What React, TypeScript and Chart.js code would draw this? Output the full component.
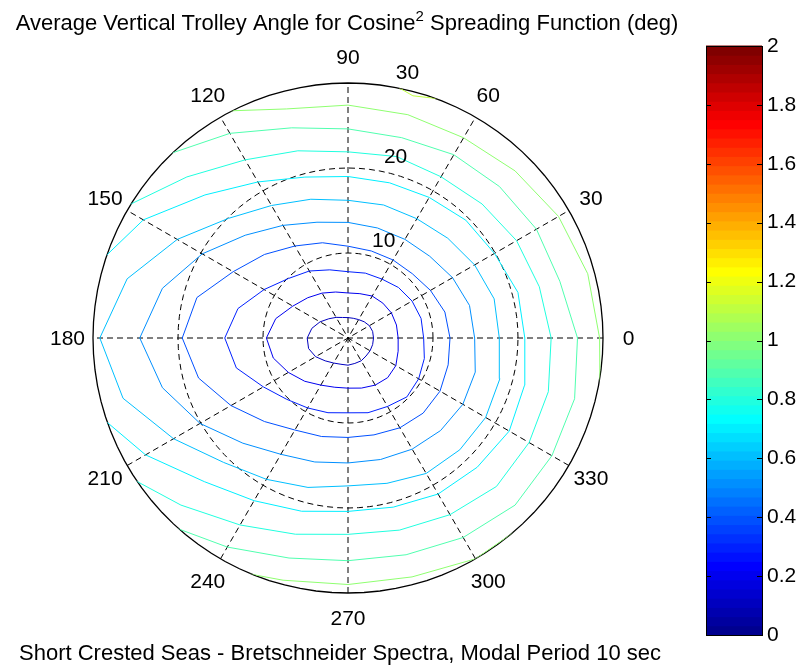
import React, { useEffect, useRef } from "react";
import { Chart, registerables } from "chart.js";

Chart.register(...registerables);

// ---------- text ----------
const TITLE_MAIN = "Average Vertical Trolley Angle for Cosine";
const TITLE_SUP = "2";
const TITLE_END = " Spreading Function (deg)";
const X_LABEL = "Short Crested Seas - Bretschneider Spectra, Modal Period 10 sec";

// ---------- data (polar: angle in degrees, radius in plot units) ----------
const ANGLES_DEG = [0, 15, 30, 45, 60, 75, 90, 105, 120, 135, 150, 165, 180, 195, 210, 225, 240, 255, 270, 285, 300, 315, 330, 345];

const CONTOUR_LEVELS = [0.1, 0.2, 0.3, 0.4, 0.5, 0.6, 0.7, 0.8, 0.9, 1.0, 1.1];

const R_LEVEL_01 = [3.0, 3.0, 2.9, 2.7, 2.5, 2.4, 2.4, 2.5, 2.8, 3.2, 3.8, 4.4, 4.8, 4.8, 4.4, 3.8, 3.4, 3.2, 3.2, 3.1, 3.1, 3.0, 3.0, 3.0];
const R_LEVEL_02 = [5.9, 5.9, 5.9, 5.8, 5.7, 5.4, 5.3, 5.6, 6.1, 6.7, 7.5, 8.8, 9.6, 9.1, 8.1, 7.2, 6.4, 6.0, 5.9, 6.1, 6.4, 6.6, 6.5, 6.1];
const R_LEVEL_03 = [8.9, 8.9, 8.7, 8.4, 8.0, 7.9, 7.8, 8.3, 9.1, 9.9, 11.4, 13.4, 14.5, 13.6, 11.5, 10.2, 9.5, 9.1, 8.8, 9.1, 9.3, 9.8, 9.6, 9.3];
const R_LEVEL_04 = [12.0, 11.8, 11.2, 10.7, 10.6, 10.6, 10.8, 11.6, 12.5, 13.9, 15.6, 18.4, 19.5, 18.2, 15.9, 13.9, 12.5, 12.0, 11.7, 11.8, 12.2, 12.5, 12.5, 12.2];
const R_LEVEL_05 = [14.9, 14.8, 14.2, 13.6, 13.4, 13.4, 13.6, 14.1, 15.3, 17.1, 19.8, 22.6, 24.5, 22.6, 20.1, 17.5, 15.8, 15.1, 14.7, 14.8, 15.1, 15.4, 15.6, 15.5];
const R_LEVEL_06 = [17.8, 17.8, 17.2, 16.6, 16.2, 16.2, 16.2, 16.9, 18.0, 19.9, 23.2, 26.9, 29.2, 27.4, 23.7, 20.7, 19.2, 18.2, 17.4, 17.7, 18.4, 18.6, 18.7, 18.5];
const R_LEVEL_07 = [20.8, 20.7, 19.9, 19.6, 19.1, 18.9, 19.0, 19.6, 21.2, 23.8, 27.8, 31.2, null, 31.5, 27.5, 23.9, 22.1, 21.1, 20.4, 20.6, 21.2, 21.5, 21.9, 21.5];
const R_LEVEL_08 = [23.9, 23.3, 22.9, 22.3, 21.9, 22.1, 21.9, 22.8, 24.2, 26.8, 30.6, null, null, null, 31.3, 27.8, 25.4, 23.9, 23.1, 23.4, 24.0, 24.7, 24.6, 24.4];
const R_LEVEL_09 = [27.0, 25.8, 25.6, 25.2, 24.9, 24.4, 24.6, 25.6, 27.8, 30.4, null, null, null, null, null, 30.8, 28.4, 26.8, 26.2, 26.4, 27.1, 27.8, 27.7, 27.6];
const R_LEVEL_10 = [29.6, 29.2, 28.6, 27.8, 27.2, 27.2, 27.4, 27.9, 30.8, null, null, null, null, null, null, null, 31.2, 29.5, 29.0, 29.1, 30.0, 30.4, null, 30.7];
const R_LEVEL_11 = [null, null, null, null, 31.8, 29.5, 32.9, null, null, null, null, null, null, null, null, null, null, null, null, null, null, null, null, null];

const CONTOUR_RADII = [R_LEVEL_01, R_LEVEL_02, R_LEVEL_03, R_LEVEL_04, R_LEVEL_05, R_LEVEL_06, R_LEVEL_07, R_LEVEL_08, R_LEVEL_09, R_LEVEL_10, R_LEVEL_11];

// ---------- polar grid / axes ----------
const R_MAX = 30;
const RING_VALUES = [10, 20, 30];
const SPOKE_ANGLES = [30, 60, 90, 120, 150, 180];
const ANGLE_LABELS = [0, 30, 60, 90, 120, 150, 180, 210, 240, 270, 300, 330];
const COLORBAR_TICKS = [0, 0.2, 0.4, 0.6, 0.8, 1.0, 1.2, 1.4, 1.6, 1.8, 2.0];
const C_MIN = 0;
const C_MAX = 2;

const FONT = '"Liberation Sans", Arial, Helvetica, sans-serif';

function jetColormap(m: number): string[] {
  const n = Math.ceil(m / 4);
  const u: number[] = [];
  for (let i = 1; i <= n; i++) u.push(i / n);
  for (let i = 1; i < n; i++) u.push(1);
  for (let i = n; i >= 1; i--) u.push(i / n);
  const gOff = Math.ceil(n / 2) - (m % 4 === 1 ? 1 : 0);
  const R = new Array(m).fill(0);
  const G = new Array(m).fill(0);
  const B = new Array(m).fill(0);
  u.forEach((val, k) => {
    const g = gOff + k + 1;
    const r = g + n;
    const b = g - n;
    if (g >= 1 && g <= m) G[g - 1] = val;
    if (r >= 1 && r <= m) R[r - 1] = val;
    if (b >= 1 && b <= m) B[b - 1] = val;
  });
  return R.map((_, i) => `rgb(${Math.round(R[i] * 255)},${Math.round(G[i] * 255)},${Math.round(B[i] * 255)})`);
}

const JET = jetColormap(64);

function levelColor(v: number): string {
  const m = JET.length;
  let idx = Math.floor(((v - C_MIN) / (C_MAX - C_MIN)) * m + 1e-9);
  idx = Math.max(0, Math.min(m - 1, idx));
  return JET[idx];
}

const polarPlugin = {
  id: "polarDecor",
  beforeDatasetsDraw(chart: any) {
    const { ctx } = chart;
    const xs = chart.scales.x;
    const ys = chart.scales.y;
    const px = (x: number) => xs.getPixelForValue(x);
    const py = (y: number) => ys.getPixelForValue(y);
    const cx = px(0);
    const cy = py(0);
    const N = 100;
    ctx.save();
    // white face
    ctx.beginPath();
    for (let i = 0; i <= N; i++) {
      const t = (i / N) * 2 * Math.PI;
      const X = px(R_MAX * Math.cos(t));
      const Y = py(R_MAX * Math.sin(t));
      if (i === 0) ctx.moveTo(X, Y); else ctx.lineTo(X, Y);
    }
    ctx.fillStyle = "#ffffff";
    ctx.fill();
    // spokes
    ctx.strokeStyle = "#000000";
    ctx.lineWidth = 1;
    ctx.setLineDash([6, 4]);
    SPOKE_ANGLES.forEach((a) => {
      const t = (a * Math.PI) / 180;
      ctx.beginPath();
      ctx.moveTo(px(-R_MAX * Math.cos(t)), py(-R_MAX * Math.sin(t)));
      ctx.lineTo(px(R_MAX * Math.cos(t)), py(R_MAX * Math.sin(t)));
      ctx.stroke();
    });
    // rings
    RING_VALUES.forEach((rv) => {
      ctx.setLineDash(rv === R_MAX ? [] : [6, 4]);
      ctx.lineWidth = rv === R_MAX ? 1.3 : 1;
      ctx.beginPath();
      for (let i = 0; i <= N; i++) {
        const t = (i / N) * 2 * Math.PI;
        const X = px(rv * Math.cos(t));
        const Y = py(rv * Math.sin(t));
        if (i === 0) ctx.moveTo(X, Y); else ctx.lineTo(X, Y);
      }
      ctx.stroke();
    });
    ctx.restore();
    // clip contours to the polar disc
    ctx.save();
    ctx.beginPath();
    ctx.arc(cx, cy, px(R_MAX) - cx, 0, 2 * Math.PI);
    ctx.clip();
  },
  afterDatasetsDraw(chart: any) {
    const { ctx } = chart;
    ctx.restore();
    const xs = chart.scales.x;
    const ys = chart.scales.y;
    const cb = chart.scales.cb;
    const px = (x: number) => xs.getPixelForValue(x);
    const py = (y: number) => ys.getPixelForValue(y);
    const cx = px(0);
    ctx.save();
    ctx.fillStyle = "#000000";
    // angle labels
    ctx.font = `21px ${FONT}`;
    ctx.textAlign = "center";
    ctx.textBaseline = "middle";
    ANGLE_LABELS.forEach((a) => {
      const t = (a * Math.PI) / 180;
      const rt = 1.1 * R_MAX;
      ctx.fillText(String(a), px(rt * Math.cos(t)), py(rt * Math.sin(t)) + 1);
    });
    // radial labels
    ctx.textAlign = "left";
    ctx.textBaseline = "bottom";
    const t82 = (82 * Math.PI) / 180;
    RING_VALUES.forEach((rv) => {
      const rr = rv + 10 / 20;
      ctx.fillText("  " + String(rv), px(rr * Math.cos(t82)), py(rr * Math.sin(t82)) + 2);
    });
    // title with superscript
    ctx.textBaseline = "alphabetic";
    ctx.font = `22px ${FONT}`;
    const w1 = ctx.measureText(TITLE_MAIN).width;
    const w3 = ctx.measureText(TITLE_END).width;
    ctx.font = `15px ${FONT}`;
    const w2 = ctx.measureText(TITLE_SUP).width;
    const total = w1 + w2 + w3;
    let tx = cx - 1 - total / 2;
    const ty = 30;
    ctx.font = `22px ${FONT}`;
    ctx.fillText(TITLE_MAIN, tx, ty);
    tx += w1;
    ctx.font = `15px ${FONT}`;
    ctx.fillText(TITLE_SUP, tx, ty - 9);
    tx += w2;
    ctx.font = `22px ${FONT}`;
    ctx.fillText(TITLE_END, tx, ty);
    // x label
    ctx.textAlign = "center";
    ctx.fillText(X_LABEL, cx - 8, 660);
    // colorbar
    const cbRight = cb.left;
    const cbLeft = cbRight - 56;
    const m = JET.length;
    for (let i = 0; i < m; i++) {
      const v0 = C_MIN + ((C_MAX - C_MIN) * i) / m;
      const v1 = C_MIN + ((C_MAX - C_MIN) * (i + 1)) / m;
      const y0 = cb.getPixelForValue(v0);
      const y1 = cb.getPixelForValue(v1);
      ctx.fillStyle = JET[i];
      ctx.fillRect(cbLeft, Math.min(y0, y1) - 0.5, cbRight - cbLeft, Math.abs(y1 - y0) + 1);
    }
    const yTop = cb.getPixelForValue(C_MAX);
    const yBot = cb.getPixelForValue(C_MIN);
    ctx.strokeStyle = "#000000";
    ctx.lineWidth = 1;
    ctx.strokeRect(Math.round(cbLeft) + 0.5, Math.round(yTop) + 0.5, Math.round(cbRight - cbLeft), Math.round(yBot - yTop));
    COLORBAR_TICKS.forEach((v) => {
      const y = Math.round(cb.getPixelForValue(v)) + 0.5;
      ctx.beginPath();
      ctx.moveTo(cbLeft, y);
      ctx.lineTo(cbLeft + 5, y);
      ctx.moveTo(cbRight - 5, y);
      ctx.lineTo(cbRight, y);
      ctx.stroke();
    });
    ctx.restore();
  },
};

export default function App() {
  const canvasRef = useRef<HTMLCanvasElement | null>(null);

  useEffect(() => {
    const canvas = canvasRef.current;
    if (!canvas) return;

    const datasets = CONTOUR_LEVELS.map((lv, i) => {
      const radii = CONTOUR_RADII[i];
      const pts = ANGLES_DEG.map((a, j) => {
        const r = radii[j];
        if (r === null || r === undefined) return { x: NaN, y: NaN };
        const t = (a * Math.PI) / 180;
        return { x: r * Math.cos(t), y: r * Math.sin(t) };
      });
      pts.push({ ...pts[0] });
      return {
        label: `level ${lv}`,
        data: pts,
        showLine: true,
        borderColor: levelColor(lv),
        backgroundColor: levelColor(lv),
        borderWidth: 1,
        pointRadius: 0,
        pointHoverRadius: 0,
        fill: false,
        tension: 0,
        spanGaps: false,
      };
    });

    // pixel scale: 255 px per 30 units, polar centre at (348, 338)
    const pxPerUnit = 255 / R_MAX;
    const chart = new Chart(canvas, {
      type: "scatter",
      data: { datasets: datasets as any },
      options: {
        responsive: false,
        maintainAspectRatio: false,
        animation: false,
        events: [],
        layout: { padding: { left: 93, right: 0, top: 46, bottom: 33 } },
        scales: {
          x: { type: "linear", display: false, min: -R_MAX, max: -R_MAX + (762 - 93) / pxPerUnit },
          y: { type: "linear", display: false, min: -(635 - 338) / pxPerUnit, max: (338 - 46) / pxPerUnit },
          cb: {
            type: "linear",
            axis: "y",
            position: "right",
            min: C_MIN,
            max: C_MAX,
            grid: { display: false, drawTicks: false },
            border: { display: false },
            afterFit: (s: any) => {
              s.width = 40;
            },
            afterBuildTicks: (s: any) => {
              s.ticks = COLORBAR_TICKS.map((v) => ({ value: v }));
            },
            ticks: {
              padding: 5,
              color: "#000000",
              font: { family: FONT, size: 21 },
              autoSkip: false,
              callback: (v: any) => String(Number(Number(v).toFixed(1))),
            },
          },
        } as any,
        plugins: {
          legend: { display: false },
          tooltip: { enabled: false },
          title: { display: false },
        },
      },
      plugins: [polarPlugin],
    });

    return () => {
      chart.destroy();
    };
  }, []);

  return (
    <div style={{ position: "absolute", left: 0, top: 0, width: 802, height: 668, background: "#ffffff" }}>
      <canvas ref={canvasRef} width={802} height={668} style={{ display: "block" }} />
    </div>
  );
}
